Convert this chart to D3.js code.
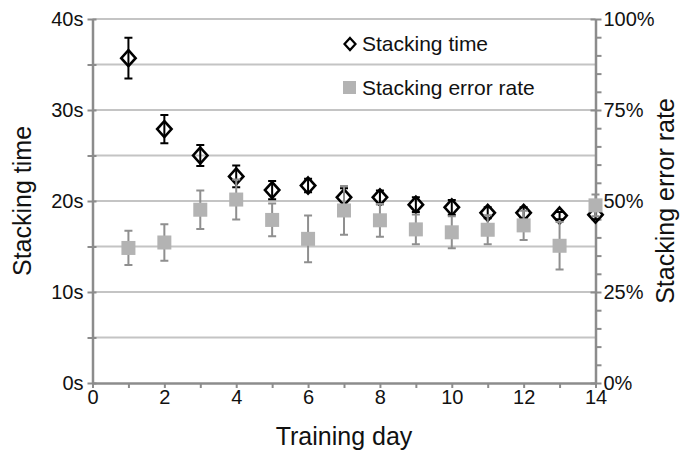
<!DOCTYPE html>
<html lang="en">
<head>
<meta charset="UTF-8">
<title>Stacking time and error rate</title>
<script src="https://d3js.org/d3.v7.min.js"></script>
<style>
  body { margin: 0; background: #fff; }
  text { font-family: "Liberation Sans", Arial, Helvetica, sans-serif; fill: #111; }
</style>
</head>
<body>
<svg width="684" height="453"></svg>
<script>
// data
const days = [1, 2, 3, 4, 5, 6, 7, 8, 9, 10, 11, 12, 13, 14];
const stackTime = [35.7, 27.9, 25.0, 22.7, 21.2, 21.7, 20.4, 20.4, 19.6, 19.3, 18.7, 18.7, 18.4, 18.5];
const stackTimeErr = [2.25, 1.55, 1.15, 1.2, 1.0, 0.75, 1.0, 0.75, 0.8, 0.8, 0.6, 0.6, 0.4, 0.5];
const errorRate = [37.1, 38.6, 47.6, 50.4, 44.8, 39.6, 47.4, 44.7, 42.2, 41.4, 42.1, 43.3, 37.7, 48.8];
const errorRateErr = [4.7, 5.0, 5.3, 5.5, 4.5, 6.4, 6.7, 4.5, 4.1, 4.4, 4.0, 4.0, 6.5, 3.0];

const timeTicks = [0, 10, 20, 30, 40];
const rateTicks = [0, 25, 50, 75, 100];

const svg = d3.select("svg");
const mLeft = 92.5, mRight = 595.5, mTop = 19, mBottom = 383;

const x = d3.scaleLinear().domain([0, 14]).range([mLeft, mRight]);
const yT = d3.scaleLinear().domain([0, 40]).range([mBottom, mTop]);
const yR = d3.scaleLinear().domain([0, 100]).range([mBottom, mTop]);

const axisCol = "#8c8c8c";
const gridCol = "#c4c4c4";

// gridlines every 5s
svg.append("g").selectAll("line")
  .data(d3.range(5, 41, 5))
  .join("line")
  .attr("x1", mLeft).attr("x2", mRight)
  .attr("y1", d => yT(d)).attr("y2", d => yT(d))
  .attr("stroke", gridCol).attr("stroke-width", 2);

// left axis
const gl = svg.append("g").attr("transform", `translate(${mLeft},0)`)
  .call(d3.axisLeft(yT).tickValues(d3.range(0, 41, 5)).tickSizeInner(6).tickSizeOuter(0)
    .tickFormat(d => timeTicks.includes(d) ? d + "s" : ""));
gl.select(".domain").attr("stroke", axisCol).attr("stroke-width", 2.5);
gl.selectAll(".tick line").attr("stroke", axisCol).attr("stroke-width", 2).attr("x2", 4).attr("x1", -5);
gl.selectAll(".tick text").attr("x", -9).attr("font-size", 20)
  .attr("font-family", "'Liberation Sans', Arial, sans-serif").attr("fill", "#111");

// right axis
const gr = svg.append("g").attr("transform", `translate(${mRight},0)`)
  .call(d3.axisRight(yR).tickValues(d3.range(0, 101, 5)).tickSizeInner(6).tickSizeOuter(0)
    .tickFormat(d => rateTicks.includes(d) ? d + "%" : ""));
gr.select(".domain").attr("stroke", axisCol).attr("stroke-width", 2.5);
gr.selectAll(".tick line").attr("stroke", axisCol).attr("stroke-width", 2)
  .attr("x1", d => rateTicks.includes(d) ? -5 : 0);
gr.selectAll(".tick text").attr("x", 8).attr("font-size", 20)
  .attr("font-family", "'Liberation Sans', Arial, sans-serif").attr("fill", "#111");

// bottom axis
const gb = svg.append("g").attr("transform", `translate(0,${mBottom})`)
  .call(d3.axisBottom(x).tickValues(d3.range(0, 15, 1)).tickSizeInner(5).tickSizeOuter(0)
    .tickFormat(d => d % 2 === 0 ? d : ""));
gb.select(".domain").attr("stroke", axisCol).attr("stroke-width", 2.5);
gb.selectAll(".tick line").attr("stroke", axisCol).attr("stroke-width", 2);
gb.selectAll(".tick text").attr("y", 7).attr("font-size", 20)
  .attr("font-family", "'Liberation Sans', Arial, sans-serif").attr("fill", "#111");

// axis titles
svg.append("text").attr("x", (mLeft + mRight) / 2).attr("y", 445)
  .attr("text-anchor", "middle").attr("font-size", 25).text("Training day");
svg.append("text").attr("transform", `translate(31,${(mTop + mBottom) / 2}) rotate(-90)`)
  .attr("text-anchor", "middle").attr("font-size", 25).text("Stacking time");
svg.append("text").attr("transform", `translate(674,${(mTop + mBottom) / 2}) rotate(-90)`)
  .attr("text-anchor", "middle").attr("font-size", 25).text("Stacking error rate");

const timeData = days.map((d, i) => ({ day: d, v: stackTime[i], e: stackTimeErr[i] }));
const rateData = days.map((d, i) => ({ day: d, v: errorRate[i], e: errorRateErr[i] }));

const diamond = (cx, cy, w, h) => `M${cx},${cy - h}L${cx + w},${cy}L${cx},${cy + h}L${cx - w},${cy}Z`;

// stacking time series
const gt = svg.append("g");
gt.selectAll(".bar").data(timeData).join("path")
  .attr("d", d => {
    const cx = x(d.day), y1 = yT(d.v + d.e), y2 = yT(d.v - d.e);
    return `M${cx},${y1}V${y2}M${cx - 4},${y1}H${cx + 4}M${cx - 4},${y2}H${cx + 4}`;
  })
  .attr("stroke", "#000").attr("stroke-width", 2).attr("fill", "none");
gt.selectAll(".mk").data(timeData).join("path")
  .attr("d", d => diamond(x(d.day), yT(d.v), 7.2, 8))
  .attr("stroke", "#000").attr("stroke-width", 2.6).attr("fill", "none");

// error rate series
const ge = svg.append("g");
ge.selectAll(".bar").data(rateData).join("path")
  .attr("d", d => {
    const cx = x(d.day), y1 = yR(d.v + d.e), y2 = yR(d.v - d.e);
    return `M${cx},${y1}V${y2}M${cx - 4},${y1}H${cx + 4}M${cx - 4},${y2}H${cx + 4}`;
  })
  .attr("stroke", "#8f8f8f").attr("stroke-width", 2).attr("fill", "none");
ge.selectAll(".mk").data(rateData).join("rect")
  .attr("x", d => x(d.day) - 7).attr("y", d => yR(d.v) - 7)
  .attr("width", 14).attr("height", 14)
  .attr("fill", "#b3b3b3");

// legend
const lg = svg.append("g");
lg.append("path").attr("d", diamond(350, 44, 5.5, 6))
  .attr("stroke", "#000").attr("stroke-width", 2.2).attr("fill", "none");
lg.append("text").attr("x", 362).attr("y", 51).attr("font-size", 21).text("Stacking time");
lg.append("rect").attr("x", 343).attr("y", 81).attr("width", 13).attr("height", 13).attr("fill", "#b3b3b3");
lg.append("text").attr("x", 362).attr("y", 95).attr("font-size", 21).text("Stacking error rate");
</script>
</body>
</html>
